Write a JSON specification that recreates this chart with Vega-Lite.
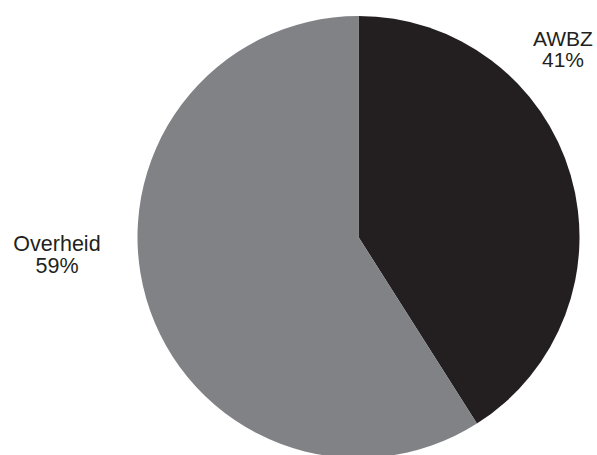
{
  "$schema": "https://vega.github.io/schema/vega-lite/v6.json",
  "width": 442,
  "height": 442,
  "autosize": {"type": "none"},
  "padding": {"left": 137.5, "top": 16, "right": 17.5, "bottom": 0},
  "background": "white",
  "config": {"view": {"stroke": null}},
  "data": {
    "values": [
      {"name": "AWBZ", "value": 41, "label": "AWBZ\n41%"},
      {"name": "Overheid", "value": 59, "label": "Overheid\n59%"}
    ]
  },
  "layer": [
    {
      "mark": {"type": "arc", "outerRadius": 221, "stroke": null},
      "encoding": {
        "theta": {"field": "value", "type": "quantitative", "stack": true},
        "order": {"field": "name", "type": "nominal"},
        "color": {
          "field": "name",
          "type": "nominal",
          "scale": {"domain": ["AWBZ", "Overheid"], "range": ["#231f20", "#808285"]},
          "legend": null
        }
      }
    },
    {
      "transform": [
        {"stack": "value", "groupby": [], "sort": [{"field": "name", "order": "ascending"}], "as": ["v0", "v1"]},
        {"calculate": "(datum.v0 + datum.v1) / 2", "as": "mid"},
        {"filter": "datum.name === 'Overheid'"}
      ],
      "mark": {
        "type": "text",
        "radius": 302,
        "dx": -11.5,
        "dy": -76,
        "align": "center",
        "baseline": "middle",
        "lineBreak": "\n",
        "lineHeight": 21.5,
        "font": "Liberation Sans",
        "fontSize": 21.5,
        "color": "#231f20"
      },
      "encoding": {
        "theta": {"field": "mid", "type": "quantitative", "stack": null},
        "text": {"field": "label"}
      }
    },
    {
      "transform": [
        {"stack": "value", "groupby": [], "sort": [{"field": "name", "order": "ascending"}], "as": ["v0", "v1"]},
        {"calculate": "(datum.v0 + datum.v1) / 2", "as": "mid"},
        {"filter": "datum.name === 'AWBZ'"}
      ],
      "mark": {
        "type": "text",
        "radius": 277,
        "dx": -61.5,
        "dy": -120,
        "align": "center",
        "baseline": "middle",
        "lineBreak": "\n",
        "lineHeight": 21,
        "font": "Liberation Sans",
        "fontSize": 21,
        "color": "#231f20"
      },
      "encoding": {
        "theta": {"field": "mid", "type": "quantitative", "stack": null},
        "text": {"field": "label"}
      }
    }
  ]
}
